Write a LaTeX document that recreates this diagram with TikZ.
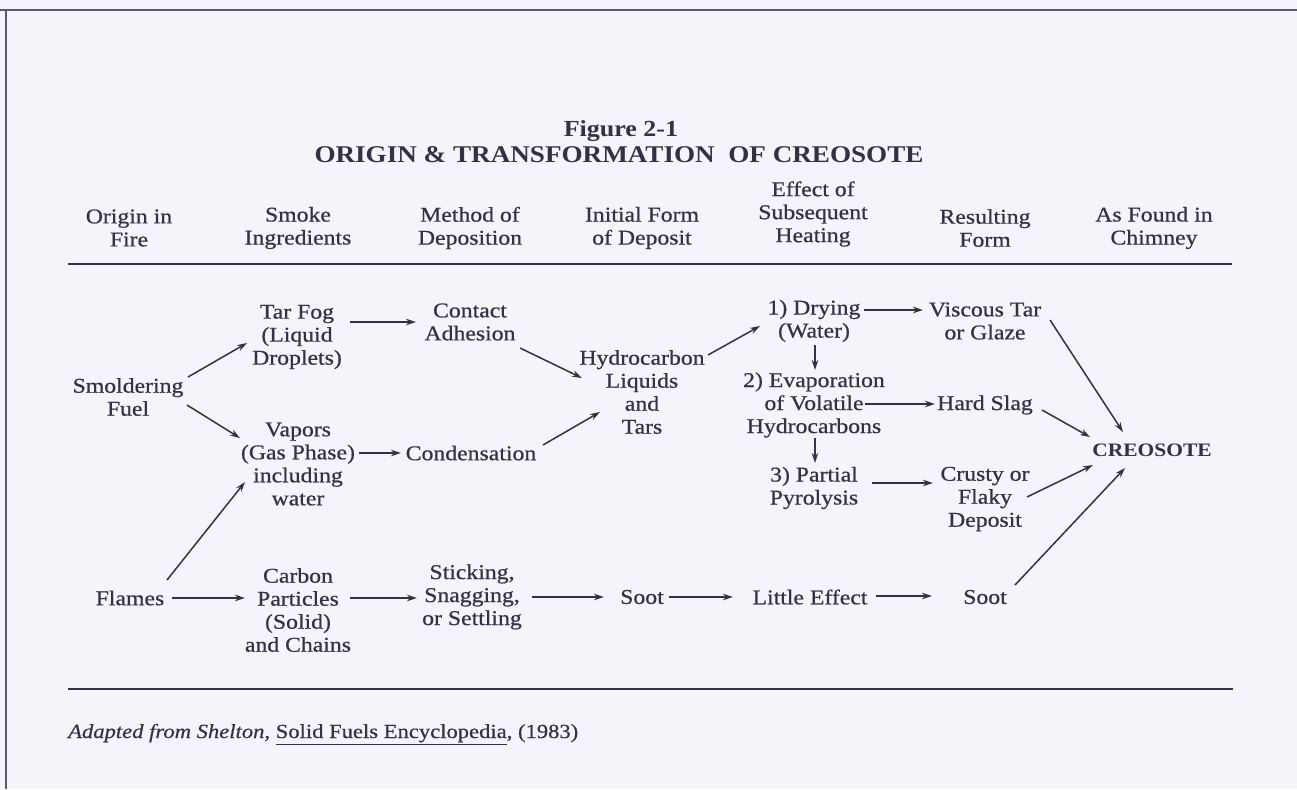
\documentclass[tikz,border=0pt]{standalone}
\usepackage{fontspec}
\setmainfont{Liberation Serif}[FakeStretch=1.13,UprightFeatures={FakeBold=0.6},ItalicFeatures={FakeBold=0.6}]
\usetikzlibrary{arrows.meta}
\definecolor{bg}{RGB}{244,245,250}
\definecolor{ink}{RGB}{50,50,66}
\begin{document}
\begin{tikzpicture}[x=1pt,y=-1pt,
  lbl/.style={text=ink, align=center, font=\fontsize{21}{23}\selectfont, inner sep=0pt},
  ttl/.style={text=ink, align=center, font=\fontsize{23}{24}\selectfont\bfseries, inner sep=0pt},
  arr/.style={draw=ink, line width=1.5pt, -{Stealth[length=10pt,width=6.5pt]}},
  rulel/.style={draw=ink, line width=2.8pt},
  frame/.style={draw=ink!80, line width=2pt}]
\fill[bg] (0,0) rectangle (1297,789);
\useasboundingbox (0,0) rectangle (1297,789);
% scan frame
\draw[frame] (0,10) -- (1297,10);
\draw[frame] (6,10) -- (6,789);
% title
\node[ttl] (fig) at (621,131) {Figure 2-1};
\node[ttl, font=\fontsize{24}{25}\selectfont\bfseries] (title) at (619,155) {ORIGIN \& TRANSFORMATION\ \ OF CREOSOTE};
% headers
\node[lbl] (h1) at (129,228) {Origin in\\Fire};
\node[lbl] (h2) at (298,228) {Smoke\\Ingredients};
\node[lbl] (h3) at (470,228) {Method of\\Deposition};
\node[lbl] (h4) at (642,228) {Initial Form\\of Deposit};
\node[lbl] (h5) at (813,214) {Effect of\\Subsequent\\Heating};
\node[lbl] (h6) at (985,228) {Resulting\\Form};
\node[lbl] (h7) at (1154,228) {As Found in\\Chimney};
\draw[rulel] (68,264) -- (1232,264);
\draw[rulel] (68,689) -- (1233,689);
% nodes
\node[lbl] (smf) at (128,397) {Smoldering\\Fuel};
\node[lbl] (tarfog) at (297,337) {Tar Fog\\(Liquid\\Droplets)};
\node[lbl] (vapors) at (298,464) {Vapors\\(Gas Phase)\\including\\water};
\node[lbl] (flames) at (130,598) {Flames};
\node[lbl] (carbon) at (298,610) {Carbon\\Particles\\(Solid)\\and Chains};
\node[lbl] (contact) at (470,322) {Contact\\Adhesion};
\node[lbl] (cond) at (471,453) {Condensation};
\node[lbl] (stick) at (472,597) {Sticking,\\Snagging,\\or Settling};
\node[lbl] (hydro) at (642,392) {Hydrocarbon\\Liquids\\and\\Tars};
\node[lbl] (soot1) at (642,597) {Soot};
\node[lbl] (dry) at (814,321) {1) Drying\\(Water)};
\node[lbl] (evap) at (814,405) {2) Evaporation\\of Volatile\\Hydrocarbons};
\node[lbl] (pyro) at (814,488) {3) Partial\\Pyrolysis};
\node[lbl] (little) at (810,597) {Little Effect};
\node[lbl] (visc) at (985,321) {Viscous Tar\\or Glaze};
\node[lbl] (slag) at (985,405) {Hard Slag};
\node[lbl] (crusty) at (985,499) {Crusty or\\Flaky\\Deposit};
\node[lbl] (soot2) at (985,597) {Soot};
\node[text=ink, font=\fontsize{19}{20}\selectfont\bfseries, inner sep=0pt] (creo) at (1152,450) {CREOSOTE};
% arrows
\draw[arr] ([shift={(60,-20)}]smf.center) -- ([shift={(-50,6)}]tarfog.center);
\draw[arr] ([shift={(59,8)}]smf.center) -- ([shift={(-58,-26)}]vapors.center);
\draw[arr] ([shift={(37,-18)}]flames.center) -- ([shift={(-53,18)}]vapors.center);
\draw[arr] ([shift={(42,0)}]flames.center) -- ([shift={(-53,-12)}]carbon.center);
\draw[arr] ([shift={(53,-15)}]tarfog.center) -- ([shift={(-54,0)}]contact.center);
\draw[arr] ([shift={(61,-11)}]vapors.center) -- ([shift={(-70,0)}]cond.center);
\draw[arr] ([shift={(52,-12)}]carbon.center) -- ([shift={(-55,1)}]stick.center);
\draw[arr] ([shift={(50,26)}]contact.center) -- ([shift={(-60,-14)}]hydro.center);
\draw[arr] ([shift={(72,-8)}]cond.center) -- ([shift={(-42,20)}]hydro.center);
\draw[arr] ([shift={(60,0)}]stick.center) -- ([shift={(-38,0)}]soot1.center);
\draw[arr] ([shift={(66,-37)}]hydro.center) -- ([shift={(-54,5)}]dry.center);
\draw[arr] ([shift={(27,0)}]soot1.center) -- ([shift={(-77,0)}]little.center);
\draw[arr] ([shift={(50,-11)}]dry.center) -- ([shift={(-62,-11)}]visc.center);
\draw[arr] ([shift={(1,24)}]dry.center) -- ([shift={(1,-35)}]evap.center);
\draw[arr] ([shift={(51,-1)}]evap.center) -- ([shift={(-50,-1)}]slag.center);
\draw[arr] ([shift={(1,33)}]evap.center) -- ([shift={(1,-25)}]pyro.center);
\draw[arr] ([shift={(58,-5)}]pyro.center) -- ([shift={(-52,-16)}]crusty.center);
\draw[arr] ([shift={(66,-1)}]little.center) -- ([shift={(-53,-1)}]soot2.center);
\draw[arr] ([shift={(65,-1)}]visc.center) -- ([shift={(-29,-18)}]creo.center);
\draw[arr] ([shift={(57,5)}]slag.center) -- ([shift={(-62,-13)}]creo.center);
\draw[arr] ([shift={(42,-2)}]crusty.center) -- ([shift={(-59,15)}]creo.center);
\draw[arr] ([shift={(30,-12)}]soot2.center) -- ([shift={(-27,18)}]creo.center);
% footer
\node[text=ink, anchor=base west, font=\fontsize{20}{22}\selectfont, inner sep=0pt] (foot) at (68,738)
  {\itshape Adapted from Shelton,\upshape{} \underline{Solid Fuels Encyclopedia}, (1983)};
\end{tikzpicture}
\end{document}
